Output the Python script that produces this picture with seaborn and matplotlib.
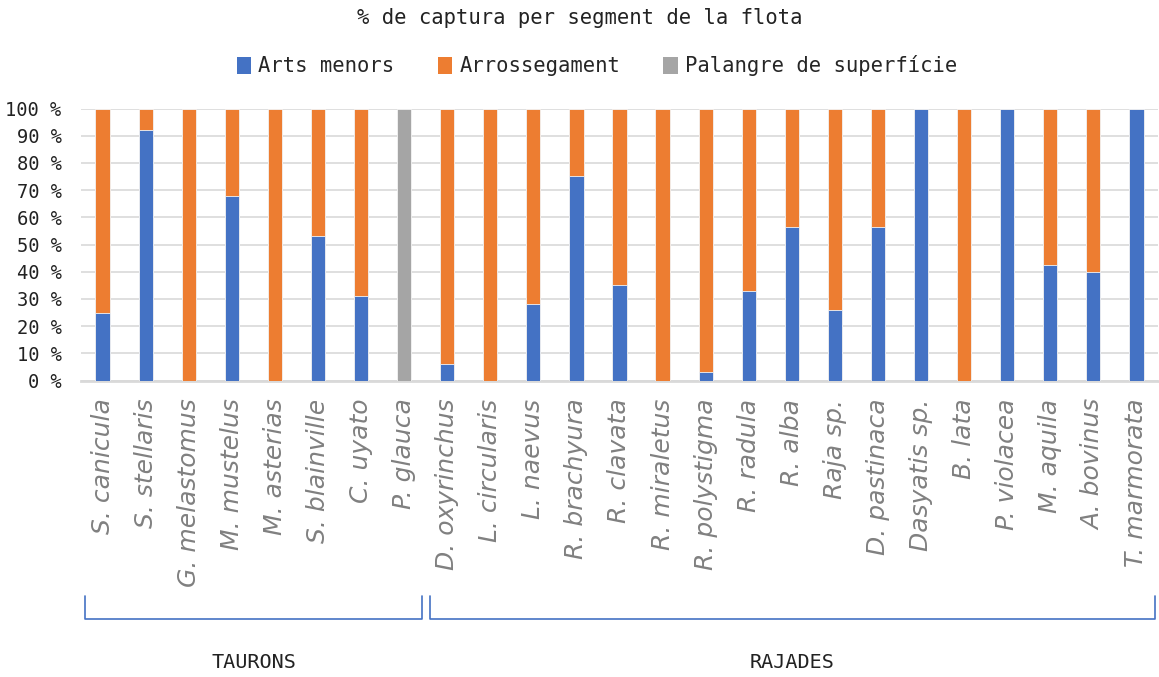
import numpy as np
import pandas as pd
import matplotlib
matplotlib.use("Agg")
import matplotlib.pyplot as plt
import matplotlib.transforms as mtransforms
from matplotlib.patches import Patch
import seaborn as sns

species = ["S. canicula", "S. stellaris", "G. melastomus", "M. mustelus", "M. asterias",
           "S. blainville", "C. uyato", "P. glauca", "D. oxyrinchus", "L. circularis",
           "L. naevus", "R. brachyura", "R. clavata", "R. miraletus", "R. polystigma",
           "R. radula", "R. alba", "Raja sp.", "D. pastinaca", "Dasyatis sp.",
           "B. lata", "P. violacea", "M. aquila", "A. bovinus", "T. marmorata"]
arts_menors = [25, 92, 0, 68, 0, 53, 31, 0, 6, 0,
               28, 75, 35, 0, 3, 33, 56.5, 26, 56.5, 100,
               0, 100, 42.5, 40, 100]
arrossegament = [75, 8, 100, 32, 100, 47, 69, 0, 94, 100,
                 72, 25, 65, 100, 97, 67, 43.5, 74, 43.5, 0,
                 100, 0, 57.5, 60, 0]
palangre = [0, 0, 0, 0, 0, 0, 0, 100, 0, 0,
            0, 0, 0, 0, 0, 0, 0, 0, 0, 0,
            0, 0, 0, 0, 0]
groups = ["TAURONS", "RAJADES"]
group_sizes = [8, 17]

series_names = ["Arts menors", "Arrossegament", "Palangre de superfície"]
colors = ["#4472C4", "#ED7D31", "#A5A5A5"]

df = pd.DataFrame({"species": species, "a": arts_menors, "b": arrossegament, "c": palangre})
df["ab"] = df["a"] + df["b"]
df["abc"] = df["ab"] + df["c"]

sns.set_theme(style="white")
mono = "DejaVu Sans Mono"

fig = plt.figure(figsize=(11.59, 6.77), dpi=100)
ax = fig.add_axes([81 / 1159, 1 - 380.5 / 677, (1158 - 81) / 1159, 272 / 677])

# stacked by layering cumulative totals
for col, c in zip(["abc", "ab", "a"], colors[::-1]):
    sns.barplot(data=df, x="species", y=col, color=c, saturation=1, width=0.33,
                edgecolor="#f4f4f4", linewidth=0.6, ax=ax, zorder=3)

ax.set_ylim(0, 100)
ax.set_xlim(-0.5, len(species) - 0.5)
ax.set_yticks(np.arange(0, 101, 10))
ax.set_yticklabels([f"{v} %" for v in range(0, 101, 10)], fontfamily=mono, fontsize=13.5, color="#222222")
ax.yaxis.grid(True, color="#D9D9D9", linewidth=1.2, zorder=0)
ax.set_axisbelow(True)
ax.tick_params(axis="y", length=0, pad=14)
ax.tick_params(axis="x", length=0, pad=13)
ax.set_xticks(range(len(species)))
ax.set_xticklabels(species, rotation=90, fontfamily="DejaVu Sans", fontstyle="italic",
                   fontsize=18, color="#808080")
ax.set_xlabel("")
ax.set_ylabel("")
for s in ["top", "right", "left"]:
    ax.spines[s].set_visible(False)
ax.spines["bottom"].set_color("#D9D9D9")
ax.spines["bottom"].set_linewidth(2)

fig.text(0.5, 1 - 18 / 677, "% de captura per segment de la flota", ha="center", va="center",
         fontfamily=mono, fontsize=14.8, color="#222222")

handles = [Patch(facecolor=c, edgecolor="none") for c in colors]
fig.legend(handles, series_names, loc="center", bbox_to_anchor=(597 / 1159, 1 - 66 / 677), ncol=3,
           frameon=False, prop={"family": mono, "size": 14.8}, handlelength=0.7, handleheight=0.9,
           handletextpad=0.35, columnspacing=2.1)

# group brackets
trans = mtransforms.blended_transform_factory(ax.transData, fig.transFigure)
start = 0
y_top, y_bot = 1 - 596 / 677, 1 - 619 / 677
for g, n in zip(groups, group_sizes):
    x0, x1 = start - 0.4, start + n - 1 + 0.42
    ax.plot([x0, x0, x1, x1], [y_top, y_bot, y_bot, y_top], transform=trans,
            color="#4472C4", linewidth=1.2, clip_on=False)
    ax.text((x0 + x1) / 2, 1 - 662 / 677, g, transform=trans, fontfamily=mono,
            fontsize=14.5, color="#222222", ha="center", va="center")
    start += n

fig.savefig("out.png", dpi=100)
